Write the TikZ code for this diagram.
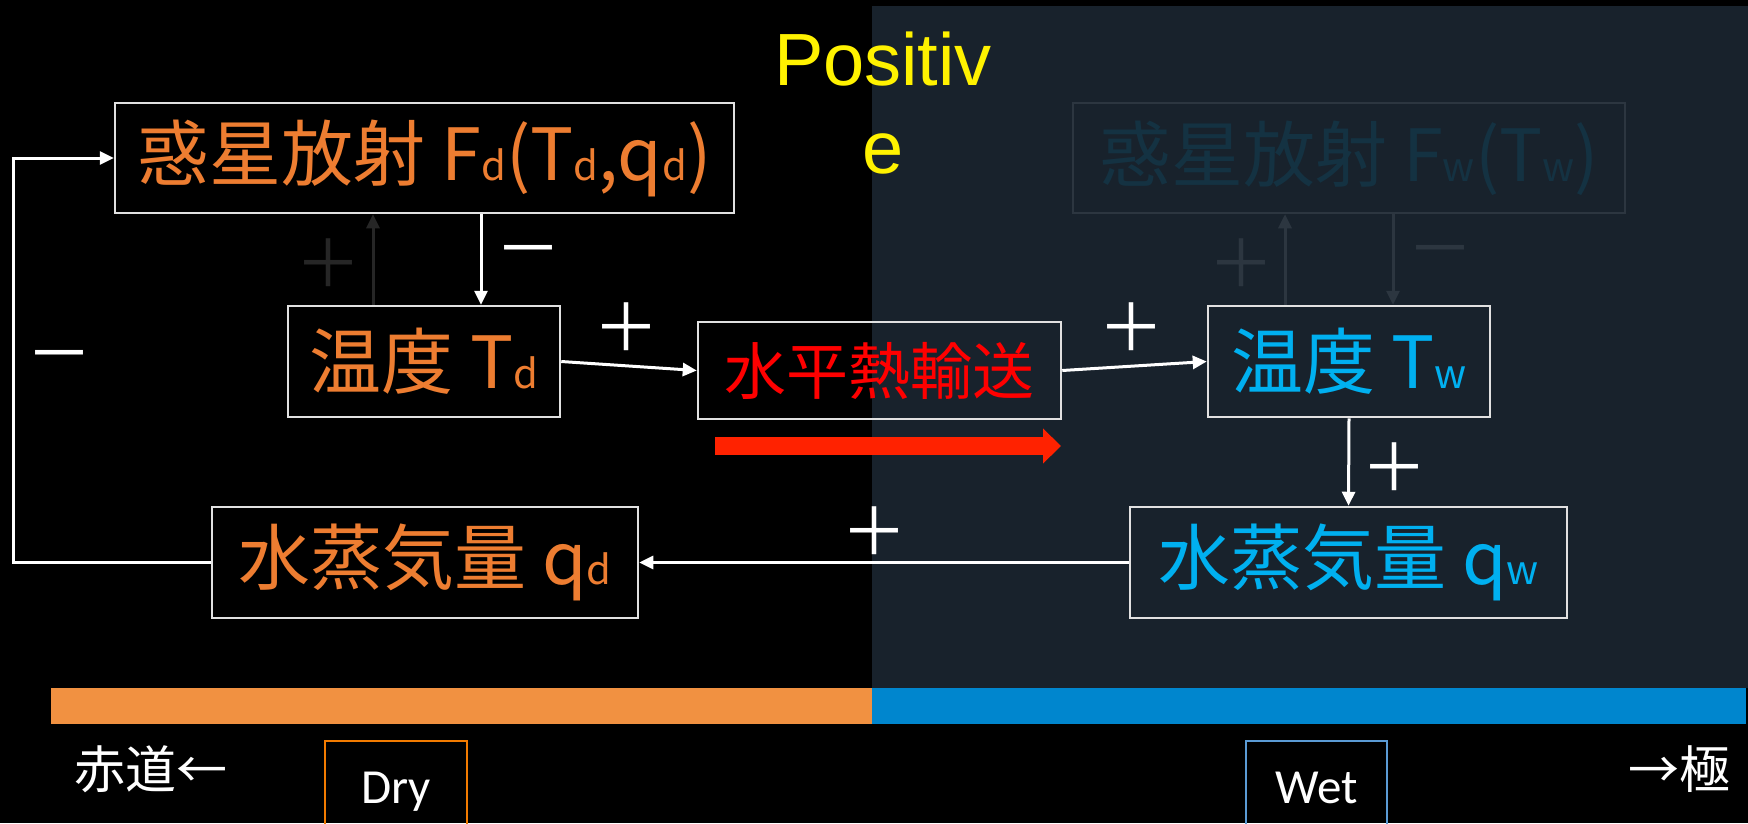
\documentclass[tikz,border=0pt]{standalone}
\usepackage{fontspec}
\usetikzlibrary{arrows.meta}
\newfontfamily\jpfont{Noto Sans CJK JP}
\newfontfamily\arialfont{Liberation Sans}
\newfontfamily\calibrifont{Carlito}
\newcommand\sbs[1]{{\fontsize{40}{40}\selectfont #1}}
\definecolor{panelC}{RGB}{24,34,44}
\definecolor{orT}{RGB}{237,125,49}
\definecolor{blT}{RGB}{0,176,240}
\definecolor{barO}{RGB}{241,145,65}
\definecolor{barB}{RGB}{0,134,206}
\definecolor{redA}{RGB}{255,34,0}
\definecolor{boxL}{RGB}{225,225,225}
\definecolor{faintL}{RGB}{38,38,38}
\definecolor{faintR}{RGB}{44,54,64}
\definecolor{faintT}{RGB}{20,50,66}
\definecolor{dryC}{RGB}{242,123,0}
\definecolor{wetC}{RGB}{91,155,213}
\tikzset{
  box/.style={draw=boxL, line width=2.5pt, inner sep=0pt, font=\jpfont\fontsize{72}{80}\selectfont},
  conn/.style={draw=white, line width=3pt, -{Triangle[length=14pt,width=13pt]}},
  fconnL/.style={draw=faintL, line width=3pt, -{Triangle[length=14pt,width=13pt]}},
  fconnR/.style={draw=faintR, line width=3pt, -{Triangle[length=14pt,width=13pt]}},
  sign/.style={inner sep=0pt, text=white, font=\jpfont\fontsize{66}{70}\selectfont},
  tag/.style={line width=2pt, inner sep=0pt, text=white, text height=32pt, text depth=0pt,
    minimum height=92pt, font=\calibrifont\fontsize{49}{55}\selectfont},
  pole/.style={inner sep=0pt, text=white, font=\jpfont\fontsize{51}{55}\selectfont},
}
\begin{document}
\begin{tikzpicture}[x=1pt,y=-1pt]
\clip (0,0) rectangle (1748,823);
\fill[black] (0,0) rectangle (1748,823);
\fill[panelC] (872,6) rectangle (1748,688);
\fill[barO] (51,688) rectangle (872,724);
\fill[barB] (872,688) rectangle (1746,724);

% title
\node[anchor=north, inner sep=0pt, align=center, text=yellow,
  font=\arialfont\fontsize{74}{88}\selectfont] (pos) at (883,32) {Positiv\\e};

% boxes
\node[box, text=orT, minimum width=619pt, minimum height=110pt] (B1) at (424.5,158)
  {惑星放射 F\sbs{d}(T\sbs{d},q\sbs{d})};
\node[box, text=orT, minimum width=272pt, minimum height=111pt] (B2) at (424,361.5)
  {温度 T\sbs{d}};
\node[box, text=red, minimum width=363pt, minimum height=97pt,
  font=\jpfont\fontsize{62}{70}\selectfont] (B3) at (879.5,370.5) {水平熱輸送};
\node[box, text=blT, minimum width=282pt, minimum height=111pt] (B4) at (1349,361.5)
  {温度 T\sbs{w}};
\node[box, draw=faintR, text=faintT, minimum width=552pt, minimum height=110pt] (B5) at (1349,158)
  {惑星放射 F\sbs{w}(T\sbs{w})};
\node[box, text=orT, minimum width=426pt, minimum height=111pt] (B6) at (425,562.5)
  {水蒸気量 q\sbs{d}};
\node[box, text=blT, minimum width=437pt, minimum height=111pt] (B7) at (1348.5,562.5)
  {水蒸気量 q\sbs{w}};

% helper coordinates
\coordinate (xa) at (481,0);
\coordinate (xb) at (373,0);
\coordinate (xc) at (1285,0);
\coordinate (xd) at (1393,0);
\coordinate (xl) at (13,0);

% connectors
\draw[conn] (B1.south -| xa) -- (B2.north -| xa);
\draw[fconnL] (B2.north -| xb) -- (B1.south -| xb);
\draw[conn] (B2.east) -- (B3.west);
\draw[conn] (B3.east) -- (B4.west);
\draw[fconnR] (B4.north -| xc) -- (B5.south -| xc);
\draw[fconnR] (B5.south -| xd) -- (B4.north -| xd);
\draw[conn] (B4.south) -- (B7.north);
\draw[conn] (B7.west) -- (B6.east);
\draw[conn] (B6.west) -- (B6.west -| xl) -- (B1.west -| xl) -- (B1.west);

% signs
\node[sign] (s1) at (528,259) {－};
\node[sign, text=faintL] (s2) at (328,263) {＋};
\node[sign] (s3) at (626,327) {＋};
\node[sign] (s4) at (1131,327) {＋};
\node[sign] (s5) at (1394,467) {＋};
\node[sign] (s6) at (874,531) {＋};
\node[sign] (s7) at (59,364) {－};
\node[sign, text=faintR] (s8) at (1241,263) {＋};
\node[sign, text=faintR] (s9) at (1440,259) {－};

% red transport arrow
\coordinate (ra1) at (715,446);
\coordinate (ra2) at (1061,446);
\draw[redA, line width=18pt, -{Triangle[length=18pt,width=34pt]}] (ra1) -- (ra2);

% bottom labels
\node[tag, draw=dryC, minimum width=142pt] (dry) at (396,787) {Dry};
\node[tag, draw=wetC, minimum width=141pt] (wet) at (1316.5,787) {Wet};
\node[pole] (eq) at (151,769) {赤道←};
\node[pole] (po) at (1679,769) {→極};
\end{tikzpicture}
\end{document}
